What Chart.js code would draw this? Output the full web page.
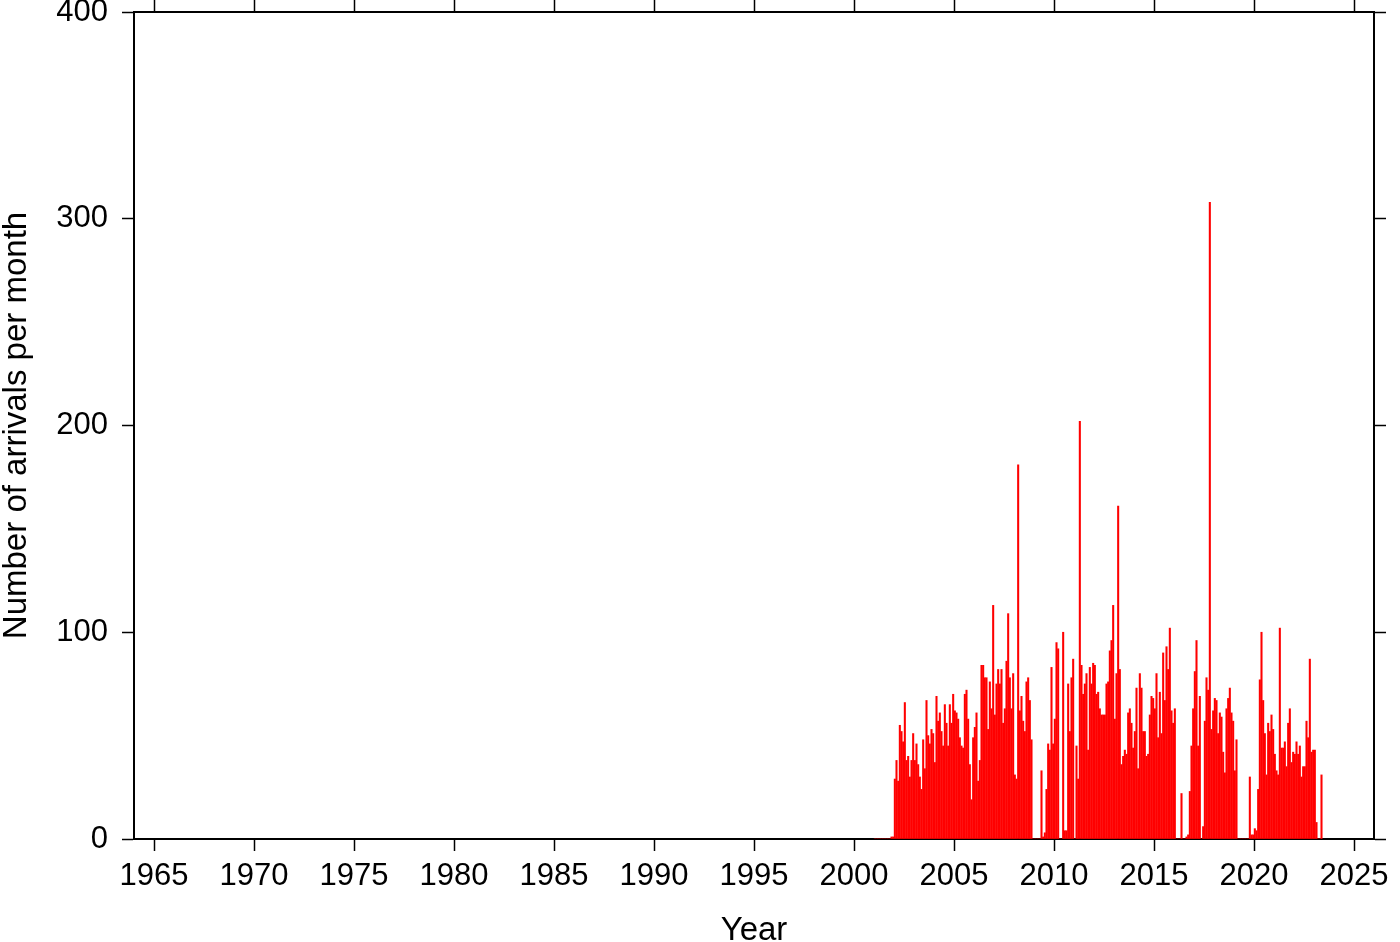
<!DOCTYPE html>
<html>
<head>
<meta charset="utf-8">
<title>Arrivals per month</title>
<script src="https://cdn.jsdelivr.net/npm/chart.js@4.4.1/dist/chart.umd.min.js"></script>
<style>
  html, body { margin: 0; padding: 0; background: #fff; }
  canvas { display: block; }
</style>
</head>
<body>
<canvas id="grafico" width="1400" height="942"></canvas>
<script>
// monthly counts, Jan..Dec of each year
const years = [2001, 2002, 2003, 2004, 2005, 2006, 2007, 2008, 2009, 2010, 2011, 2012,
               2013, 2014, 2015, 2016, 2017, 2018, 2019, 2020, 2021, 2022, 2023];
const c2001 = [0, 0, 0, 0, 0, 0, 0, 0, 0, 0, 1, 1];
const c2002 = [29, 38, 28, 55, 52, 47, 66, 38, 40, 30, 38, 51];
const c2003 = [38, 46, 36, 30, 24, 48, 34, 67, 50, 46, 53, 51];
const c2004 = [37, 69, 57, 61, 52, 45, 65, 56, 45, 65, 56, 70];
const c2005 = [62, 61, 58, 49, 45, 44, 70, 72, 58, 36, 19, 49];
const c2006 = [54, 61, 28, 38, 84, 84, 78, 78, 53, 76, 63, 113];
const c2007 = [60, 75, 82, 75, 82, 56, 63, 86, 109, 78, 63, 80];
const c2008 = [31, 29, 181, 62, 69, 57, 52, 76, 78, 67, 48, 0];
const c2009 = [0, 0, 0, 0, 33, 1, 3, 24, 46, 43, 83, 46];
const c2010 = [58, 95, 92, 0, 0, 100, 4, 4, 75, 52, 78, 87];
const c2011 = [0, 45, 29, 202, 84, 70, 75, 80, 43, 83, 75, 85];
const c2012 = [84, 70, 71, 63, 60, 60, 60, 75, 76, 91, 96, 113];
const c2013 = [58, 80, 161, 82, 36, 40, 43, 41, 61, 63, 56, 44];
const c2014 = [52, 73, 34, 80, 73, 52, 52, 40, 41, 60, 69, 68];
const c2015 = [63, 80, 49, 71, 51, 90, 67, 93, 82, 102, 62, 56];
const c2016 = [63, 0, 0, 0, 22, 0, 0, 1, 2, 23, 45, 63];
const c2017 = [81, 96, 45, 69, 0, 6, 57, 78, 72, 308, 53, 62];
const c2018 = [68, 67, 51, 61, 59, 42, 32, 63, 68, 73, 61, 57];
const c2019 = [33, 48, 0, 0, 0, 0, 0, 0, 0, 30, 2, 2];
const c2020 = [5, 4, 24, 77, 100, 67, 51, 31, 56, 52, 60, 53];
const c2021 = [41, 33, 31, 102, 44, 44, 47, 35, 56, 63, 37, 42];
const c2022 = [41, 47, 41, 45, 30, 35, 35, 57, 49, 87, 42, 43];
const c2023 = [43, 8, 0, 0, 31];
const counts = [c2001, c2002, c2003, c2004, c2005, c2006, c2007, c2008, c2009, c2010, c2011, c2012,
                c2013, c2014, c2015, c2016, c2017, c2018, c2019, c2020, c2021, c2022, c2023];

const xTicks = [1965, 1970, 1975, 1980, 1985, 1990, 1995, 2000, 2005, 2010, 2015, 2020, 2025];
const yTicks = [0, 100, 200, 300, 400];

// one bar per month, placed at mid-month
const puntos = [];
years.forEach((anio, i) => {
    counts[i].forEach((v, m) => puntos.push({ x: anio + (m + 0.5) / 12, y: v }));
});

const fuente = 'Liberation Sans, Arial, Helvetica, sans-serif';
const negro = '#000';

const gridEje = {
    offset: false,
    drawOnChartArea: false,
    drawTicks: true,
    tickLength: 12,
    tickWidth: 1.5,
    tickColor: negro
};
const bordeEje = { display: true, color: negro, width: 2 };
const fijarX = s => { s.ticks = xTicks.map(v => ({ value: v })); };
const fijarY = s => { s.ticks = yTicks.map(v => ({ value: v })); };

// fixed box sizes so the frame sits where the reference has it
const caja = (ancho, alto) => s => {
    if (ancho !== null) s.width = ancho;
    if (alto !== null) s.height = alto;
    s.paddingTop = 0;
    s.paddingBottom = 0;
    s.paddingLeft = 0;
    s.paddingRight = 0;
};

new Chart(document.getElementById('grafico'), {
    type: 'bar',
    data: {
        datasets: [{
            data: puntos,
            backgroundColor: 'rgb(255, 0, 0)',
            borderWidth: 0,
            barThickness: 1.4,
            grouped: false
        }]
    },
    options: {
        responsive: false,
        animation: false,
        devicePixelRatio: 1,
        layout: { padding: 0 },
        plugins: {
            legend: { display: false },
            tooltip: { enabled: false }
        },
        scales: {
            x: {
                type: 'linear',
                position: 'bottom',
                min: 1964,
                max: 2026,
                offset: false,
                afterBuildTicks: fijarX,
                afterFit: caja(null, 103),
                ticks: {
                    color: negro,
                    font: { family: fuente, size: 31 },
                    padding: 7,
                    maxRotation: 0,
                    autoSkip: false,
                    callback: v => String(v)
                },
                grid: gridEje,
                border: bordeEje,
                title: {
                    display: true,
                    text: 'Year',
                    color: negro,
                    font: { family: fuente, size: 33, lineHeight: 0.65 },
                    padding: 0
                }
            },
            x2: {
                type: 'linear',
                position: 'top',
                min: 1964,
                max: 2026,
                offset: false,
                afterBuildTicks: fijarX,
                afterFit: caja(null, 12),
                ticks: { display: false },
                grid: gridEje,
                border: bordeEje
            },
            y: {
                type: 'linear',
                position: 'left',
                min: 0,
                max: 400,
                afterBuildTicks: fijarY,
                afterFit: caja(134, null),
                ticks: {
                    color: negro,
                    font: { family: fuente, size: 31 },
                    padding: 14,
                    callback: v => String(v)
                },
                grid: gridEje,
                border: bordeEje,
                title: {
                    display: true,
                    text: 'Number of arrivals per month',
                    color: negro,
                    font: { family: fuente, size: 33, lineHeight: 1 },
                    padding: 0
                }
            },
            y2: {
                type: 'linear',
                position: 'right',
                min: 0,
                max: 400,
                afterBuildTicks: fijarY,
                afterFit: caja(26, null),
                ticks: { display: false },
                grid: gridEje,
                border: bordeEje
            }
        }
    }
});
</script>
</body>
</html>
